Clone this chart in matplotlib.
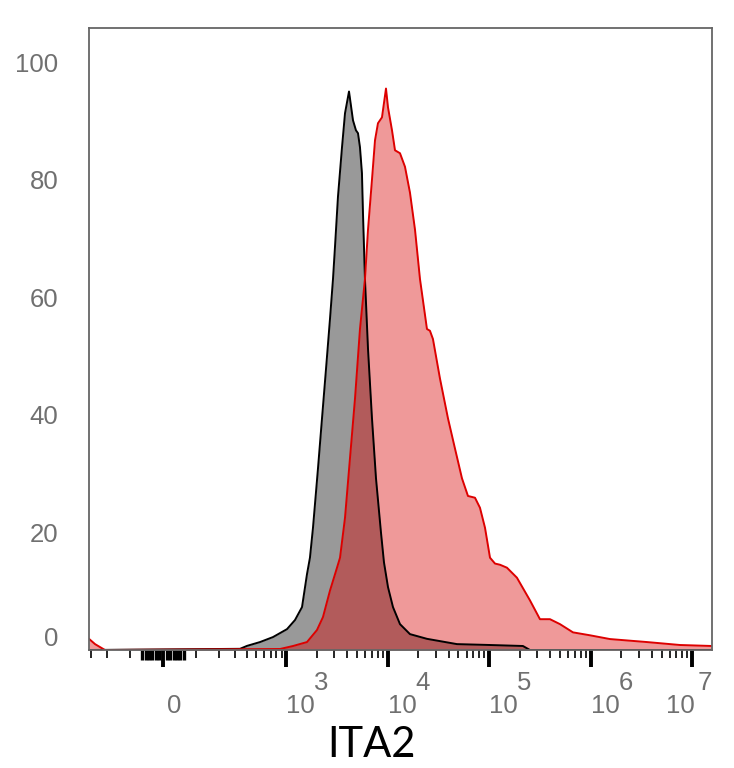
"""ITA2 histogram overlay (flow cytometry style, biexponential x axis)."""

import matplotlib

matplotlib.use("Agg")
import matplotlib.pyplot as plt
import numpy as np
from matplotlib.ticker import FixedLocator
from matplotlib.transforms import ScaledTranslation

# biexponential-like axis: arcsinh with a linear width around zero
WIDTH = 123.0

# control (isotype) histogram, % of max
ctrl_x = [-318, 342, 404, 548, 740, 1020, 1224, 1436, 1608, 1720, 1843, 2065, 2262,
          2477, 2711, 2903, 3038, 3250, 3561, 3813, 4175, 4570, 4887, 5120, 5355,
          5600, 5730, 5995, 6425, 7030, 7700, 8620, 9230, 10110, 11320, 13270,
          16640, 24460, 48280, 102200, 215600, 252800, 1.57e7]
ctrl_y = [0, 0.2, 0.7, 1.35, 2.2, 3.55, 5.1, 7.3, 12.9, 15.7, 20.8, 30.9, 39.4,
          47.8, 56.3, 63.1, 68.6, 77.1, 85.5, 91.3, 95.0, 90.1, 88.4, 87.9, 85.5,
          81.1, 74.4, 63.1, 51.2, 39.4, 29.2, 20.0, 14.9, 10.7, 7.3, 4.4,
          2.7, 1.9, 1.0, 0.85, 0.68, 0, 0]

# ITA2 stained histogram, % of max
stim_x = [-318, -274, -242, -213, 870, 1170, 1608, 2018, 2312, 2711, 3180, 3405,
          3813, 4267, 4785, 5355, 5995, 6425, 7030, 7530, 8055, 8820,
          9660, 10110, 11070, 11850, 13270, 14860, 16640, 18650, 20880, 24460,
          26180, 28020, 32840, 39400, 46130, 54120, 62000, 72700, 81380, 91220,
          102200, 114500, 128300, 150100, 188200, 252800, 317300, 398300, 499400, 671000,
          987000, 1.552e6, 3.593e6, 7.589e6, 1.57e7]
stim_y = [1.9, 1.0, 0.5, 0, 0.17, 0.68, 1.35, 3.4, 5.6, 10.1, 14.0, 15.7,
          22.5, 32.6, 42.8, 54.6, 63.1, 71.5, 80.0, 86.7, 89.6, 90.6,
          95.5, 92.3, 88.4, 85.0, 84.5, 82.2, 77.8, 71.5, 63.1, 54.6,
          54.3, 52.9, 46.2, 39.4, 34.3, 29.2, 26.2, 25.9, 24.2, 20.8,
          15.7, 14.7, 14.5, 14.0, 12.3, 8.45, 5.24, 5.24, 4.4, 3.0,
          2.5, 1.86, 1.35, 0.85, 0.68]

major_ticks = [0, 1e3, 1e4, 1e5, 1e6, 1e7]
major_labels = [("0", ""), ("10", "3"), ("10", "4"), ("10", "5"), ("10", "6"), ("10", "7")]
near_zero_ticks = [v for v in range(-60, 70, 10) if v != 0]
y_ticks = [0, 20, 40, 60, 80, 100]


def forward(x):
    return np.arcsinh(np.asarray(x, dtype=float) / WIDTH)


def inverse(u):
    return WIDTH * np.sinh(np.asarray(u, dtype=float))


def minor_ticks():
    ticks = [-300, -200, -100] + list(range(100, 1000, 100))
    for decade in [1e3, 1e4, 1e5, 1e6]:
        ticks += [m * decade for m in range(2, 10)]
    return ticks


fig = plt.figure(figsize=(7.34, 7.68), dpi=100)
ax = fig.add_axes([89 / 734, 118 / 768, 623 / 734, 622 / 768])
ax.set_xscale("function", functions=(forward, inverse))

ax.fill_between(ctrl_x, ctrl_y, 0, color="#999999", linewidth=0)
ax.plot(ctrl_x, ctrl_y, color="black", linewidth=1.4)
ax.fill_between(stim_x, stim_y, 0, color="#d90000", alpha=0.4, linewidth=0)
ax.plot(stim_x, stim_y, color="#dd0000", linewidth=1.4)

ax.set_xlim(-318, 1.57e7)
ax.set_ylim(0, 105.8)

for side in ax.spines.values():
    side.set_color("#666666")
    side.set_linewidth(1.3)

ax.xaxis.set_major_locator(FixedLocator(major_ticks))
ax.xaxis.set_minor_locator(FixedLocator(minor_ticks()))
ax.tick_params(axis="x", which="major", length=12, width=2.8, color="black", labelbottom=False)
ax.tick_params(axis="x", which="minor", length=6, width=1.2, color="black")
# the dense linear ticks around zero merge into a solid block
ax.vlines(near_zero_ticks, 0, -10 / 622, transform=ax.get_xaxis_transform(),
          colors="black", linewidth=2.4, clip_on=False)

ax.set_yticks(y_ticks)
ax.tick_params(axis="y", length=0, pad=22, labelsize=18.5, labelcolor="#707070")
for lab in ax.get_yticklabels():
    lab.set_fontfamily("Liberation Sans")
# the zero label sits a little higher than its tick
zero_lab = ax.get_yticklabels()[0]
zero_lab.set_transform(zero_lab.get_transform() + ScaledTranslation(0, 14 / 100, fig.dpi_scale_trans))

# FlowJo-style decade labels: base and exponent written side by side
label_style = dict(xycoords=("data", "axes fraction"), textcoords="offset pixels",
                   fontsize=18.5, color="#707070", family="Liberation Sans", va="center")
for tick, (base, power) in zip(major_ticks, major_labels):
    if power == "7":
        ax.annotate(base, xy=(tick, 0), xytext=(-26, -56), ha="left", **label_style)
        ax.annotate(power, xy=(tick, 0), xytext=(6, -33), ha="left", **label_style)
    elif power:
        ax.annotate(base, xy=(tick, 0), xytext=(0, -56), ha="left", **label_style)
        ax.annotate(power, xy=(tick, 0), xytext=(28, -33), ha="left", **label_style)
    else:
        ax.annotate(base, xy=(tick, 0), xytext=(4, -56), ha="left", **label_style)

fig.text(371 / 734, 1 - 745 / 768, "ITA2", fontsize=30, family="Lato",
         ha="center", va="center", color="black")

fig.savefig("out.png", dpi=100)
